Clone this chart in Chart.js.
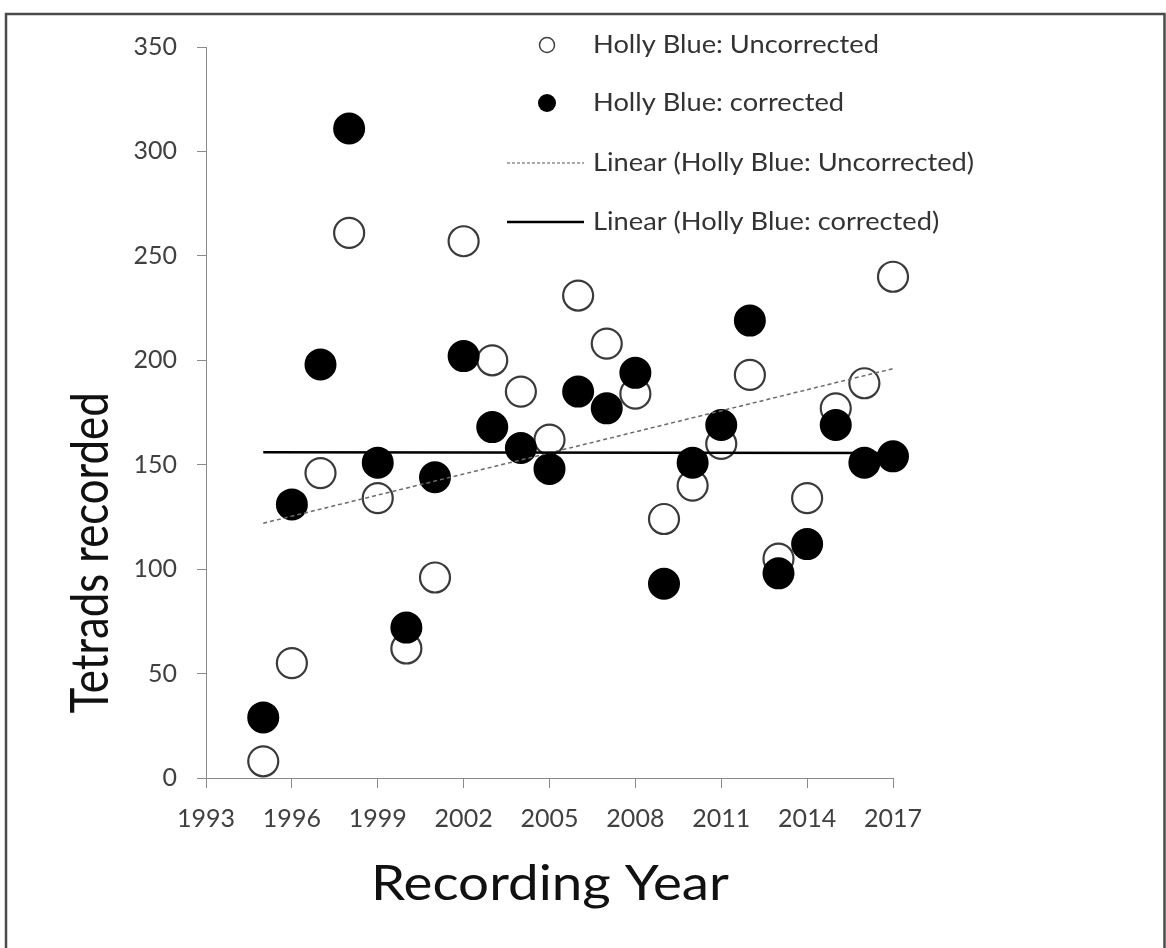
<!DOCTYPE html>
<html>
<head>
<meta charset="utf-8">
<script src="https://cdn.jsdelivr.net/npm/chart.js@4.4.1/dist/chart.umd.min.js"></script>
<style>
  html, body { margin: 0; padding: 0; background: #ffffff; }
  #wrap { width: 1166px; height: 948px; position: relative; }
</style>
</head>
<body>
<div id="wrap"><canvas id="c" width="1166" height="948"></canvas></div>
<script>
// ---- data ----
const years = [1995, 1996, 1997, 1998, 1999, 2000, 2001, 2002, 2003, 2004, 2005, 2006,
               2007, 2008, 2009, 2010, 2011, 2012, 2013, 2014, 2015, 2016, 2017];
const uncorrected = [8, 55, 146, 261, 134, 62, 96, 257, 200, 185, 162, 231,
                     208, 184, 124, 140, 160, 193, 105, 134, 177, 189, 240];
const corrected = [29, 131, 198, 311, 151, 72, 144, 202, 168, 158, 148, 185,
                   177, 194, 93, 151, 169, 219, 98, 112, 169, 151, 154];
const trendYears = [1995, 2017];
const trendUncorrected = [122, 196];
const trendCorrected = [156, 155.6];
const xTicks = [1993, 1996, 1999, 2002, 2005, 2008, 2011, 2014, 2017];
const yTicks = [0, 50, 100, 150, 200, 250, 300, 350];
const seriesNames = ['Holly Blue: Uncorrected', 'Holly Blue: corrected',
                     'Linear (Holly Blue: Uncorrected)', 'Linear (Holly Blue: corrected)'];
const xTitle = 'Recording Year';
const yTitle = 'Tetrads recorded';

const FONT = 'Lato, "Open Sans", sans-serif';

const toPts = (xs, ys) => xs.map((x, i) => ({ x: x, y: ys[i] }));

const decor = {
  id: 'decor',
  beforeDraw(chart) {
    const ctx = chart.ctx;
    ctx.save();
    ctx.fillStyle = '#ffffff';
    ctx.fillRect(0, 0, chart.width, chart.height);
    ctx.restore();
  },
  afterDraw(chart) {
    const ctx = chart.ctx;
    ctx.save();
    // frame
    ctx.strokeStyle = '#4a4a4a';
    ctx.lineWidth = 2.5;
    ctx.beginPath();
    ctx.moveTo(6, 960);
    ctx.lineTo(6, 14);
    ctx.lineTo(1164.5, 14);
    ctx.lineTo(1164.5, 960);
    ctx.stroke();

    // axis titles
    ctx.fillStyle = '#111111';
    ctx.font = '48px ' + FONT;
    ctx.textAlign = 'center';
    ctx.textBaseline = 'alphabetic';
    ctx.save();
    ctx.translate(550, 900);
    ctx.scale(1.14, 1);
    ctx.fillText(xTitle, 0, 0);
    ctx.restore();
    ctx.save();
    ctx.translate(108, 553);
    ctx.rotate(-Math.PI / 2);
    ctx.scale(0.91, 1.1);
    ctx.fillText(yTitle, 0, 0);
    ctx.restore();

    // legend
    const rows = [45, 103, 163, 222];
    ctx.font = '25px ' + FONT;
    ctx.fillStyle = '#333333';
    ctx.textAlign = 'left';
    ctx.textBaseline = 'middle';
    rows.forEach((y, i) => {
      ctx.save();
      ctx.translate(593, y);
      ctx.scale(1.09, 1);
      ctx.fillText(seriesNames[i], 0, 0);
      ctx.restore();
    });
    // markers
    ctx.beginPath();
    ctx.arc(547, rows[0], 7.5, 0, Math.PI * 2);
    ctx.strokeStyle = '#404040';
    ctx.lineWidth = 1.5;
    ctx.stroke();
    ctx.beginPath();
    ctx.arc(547, rows[1], 9, 0, Math.PI * 2);
    ctx.fillStyle = '#000000';
    ctx.fill();
    ctx.beginPath();
    ctx.setLineDash([3, 2]);
    ctx.strokeStyle = '#555555';
    ctx.lineWidth = 1.2;
    ctx.moveTo(507, rows[2]);
    ctx.lineTo(584, rows[2]);
    ctx.stroke();
    ctx.setLineDash([]);
    ctx.beginPath();
    ctx.strokeStyle = '#000000';
    ctx.lineWidth = 2.5;
    ctx.moveTo(507, rows[3]);
    ctx.lineTo(584, rows[3]);
    ctx.stroke();
    ctx.restore();
  }
};

new Chart(document.getElementById('c'), {
  type: 'scatter',
  data: {
    datasets: [
      {
        label: seriesNames[0],
        data: toPts(years, uncorrected),
        pointRadius: 15,
        pointHoverRadius: 15,
        pointBackgroundColor: 'rgba(255,255,255,0)',
        pointBorderColor: '#3a3a3a',
        pointBorderWidth: 2.2,
        clip: false,
        order: 3
      },
      {
        label: seriesNames[1],
        data: toPts(years, corrected),
        pointRadius: 15,
        pointHoverRadius: 15,
        pointBackgroundColor: '#000000',
        pointBorderColor: '#000000',
        pointBorderWidth: 2,
        clip: false,
        order: 2
      },
      {
        type: 'line',
        label: seriesNames[2],
        data: toPts(trendYears, trendUncorrected),
        borderColor: '#6a6a6a',
        borderWidth: 1.5,
        borderDash: [4, 3],
        pointRadius: 0,
        fill: false,
        clip: false,
        order: 1
      },
      {
        type: 'line',
        label: seriesNames[3],
        data: toPts(trendYears, trendCorrected),
        borderColor: '#000000',
        borderWidth: 2.5,
        pointRadius: 0,
        fill: false,
        clip: false,
        order: 0
      }
    ]
  },
  options: {
    responsive: false,
    animation: false,
    devicePixelRatio: 1,
    layout: { padding: { left: 0, top: 47, right: 273, bottom: 0 } },
    plugins: { legend: { display: false }, tooltip: { enabled: false } },
    scales: {
      x: {
        type: 'linear',
        min: 1993,
        max: 2017,
        afterBuildTicks(scale) { scale.ticks = xTicks.map(v => ({ value: v })); },
        afterFit(scale) { scale.height = 170; },
        grid: { drawOnChartArea: false, drawTicks: true, tickLength: 10, color: '#8a8a8a', lineWidth: 1 },
        border: { color: '#8a8a8a', width: 1 },
        ticks: {
          font: { family: FONT, size: 25 },
          color: '#404040',
          padding: 16,
          maxRotation: 0,
          callback: v => String(v)
        }
      },
      y: {
        type: 'linear',
        min: 0,
        max: 350,
        afterBuildTicks(scale) { scale.ticks = yTicks.map(v => ({ value: v })); },
        afterFit(scale) { scale.width = 206; },
        grid: { drawOnChartArea: false, drawTicks: true, tickLength: 9, color: '#8a8a8a', lineWidth: 1 },
        border: { color: '#8a8a8a', width: 1 },
        ticks: {
          font: { family: FONT, size: 25 },
          color: '#404040',
          padding: 20,
          callback: v => String(v)
        }
      }
    }
  },
  plugins: [decor]
});
</script>
</body>
</html>
